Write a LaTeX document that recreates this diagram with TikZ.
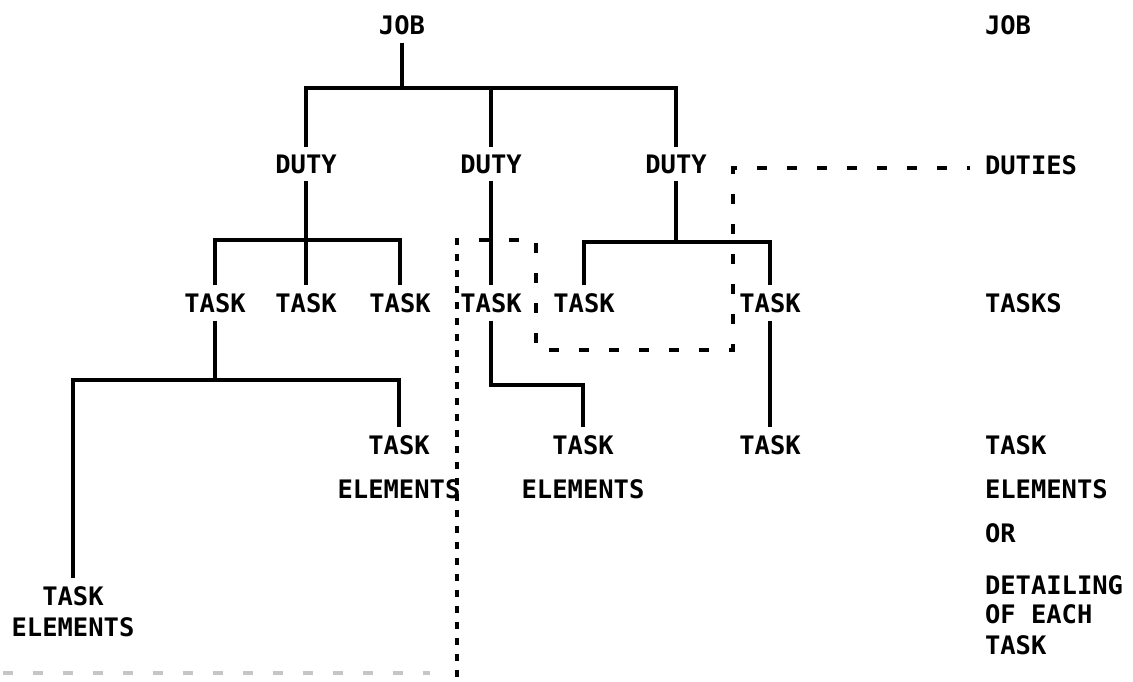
\documentclass[tikz,border=0pt]{standalone}
\usepackage{fontspec}
\setmonofont{DejaVu Sans Mono}
\usetikzlibrary{positioning,calc}

\begin{document}
\begin{tikzpicture}[
    unit/.style={font=\ttfamily\bfseries\fontsize{14.5}{25}\selectfont, inner sep=0pt,
                 outer sep=0.16cm, align=center},
    level/.style={font=\ttfamily\bfseries\fontsize{14.5}{25}\selectfont, inner sep=0pt,
                  outer sep=0pt, anchor=west, align=left},
    link/.style={line width=2pt},
    trace/.style={line width=2pt, dash pattern=on 0.2cm off 0.4cm},
    cut/.style={line width=2pt, dash pattern=on 0.13cm off 0.19cm},
  ]
  \useasboundingbox (0,0) rectangle (22.66,-13.62);

  \node[unit] (job) at (8.04,-0.5) {JOB};

  \node[unit] (dutyA) at (6.12,-3.28) {DUTY};
  \node[unit] (dutyB) at (9.82,-3.28) {DUTY};
  \node[unit] (dutyC) at (13.52,-3.28) {DUTY};

  \node[unit] (taskA1) at (4.3,-6.06) {TASK};
  \node[unit] (taskA2) at (6.12,-6.06) {TASK};
  \node[unit] (taskA3) at (8.0,-6.06) {TASK};
  \node[unit] (taskB1) at (9.82,-6.06) {TASK};
  \node[unit] (taskC1) at (11.68,-6.06) {TASK};
  \node[unit] (taskC2) at (15.4,-6.06) {TASK};

  \node[unit] (elemA) at (7.98,-9.34) {TASK\\ELEMENTS};
  \node[unit] (elemB) at (11.66,-9.34) {TASK\\ELEMENTS};
  \node[unit] (taskC3) at (15.4,-8.9) {TASK};
  \node[unit, font=\ttfamily\bfseries\fontsize{14.5}{17.5}\selectfont] (elemL) at (1.46,-12.23) {TASK\\ELEMENTS};

  \node[level] (lvlJob) at (19.7,-0.5) {JOB};
  \node[level] (lvlDuty) at (19.7,-3.3) {DUTIES};
  \node[level] (lvlTask) at (19.7,-6.06) {TASKS};
  \node[level, anchor=north west] (lvlElem) at (19.7,-8.72)
    {TASK\\ELEMENTS\\OR\\[4.5pt]DETAILING\\[-8.5pt]OF EACH\\[-7.5pt]TASK};

  \coordinate (jobBar) at (8.04,-1.76);
  \coordinate (barA) at (6.12,-4.8);
  \coordinate (barB) at (11.66,-7.7);
  \coordinate (barC) at (13.52,-4.84);
  \coordinate (barE) at (4.3,-7.6);

  \draw[link] (job.south) -- (jobBar);
  \draw[link] (dutyA.north) |- (jobBar) -| (dutyC.north);
  \draw[link] (dutyB.north) -- (dutyB.north |- jobBar);

  \draw[link] (dutyA.south) -- (taskA2.north);
  \draw[link] (taskA1.north) |- (barA) -| (taskA3.north);

  \draw[link] (dutyB.south) -- (taskB1.north);
  \draw[link] (taskB1.south) |- (barB) -- (elemB.north);

  \draw[link] (dutyC.south) -- (barC);
  \draw[link] (taskC1.north) |- (barC) -| (taskC2.north);
  \draw[link] (taskC2.south) -- (taskC3.north);

  \draw[link] (taskA1.south) -- (barE);
  \draw[link] (elemL.north) |- (barE) -| (elemA.north);

  \coordinate (boxStart) at (9.58,-4.8);
  \coordinate (cutTop) at (9.14,-4.76);
  \coordinate (cutEnd) at (9.14,-13.62);
  \coordinate (rimStart) at (0.06,-13.46);
  \coordinate (rimEnd) at (8.6,-13.46);

  \draw[trace] (boxStart) -- (10.72,-4.8) -- (10.72,-7.0) -- (14.66,-7.0)
    -- (14.66,-3.36) -- ([xshift=-0.3cm]lvlDuty.west |- 14.66,-3.36);
  \draw[cut] (cutTop) -- (cutEnd);
  \draw[trace, gray!45] (rimStart) -- (rimEnd);
\end{tikzpicture}
\end{document}
